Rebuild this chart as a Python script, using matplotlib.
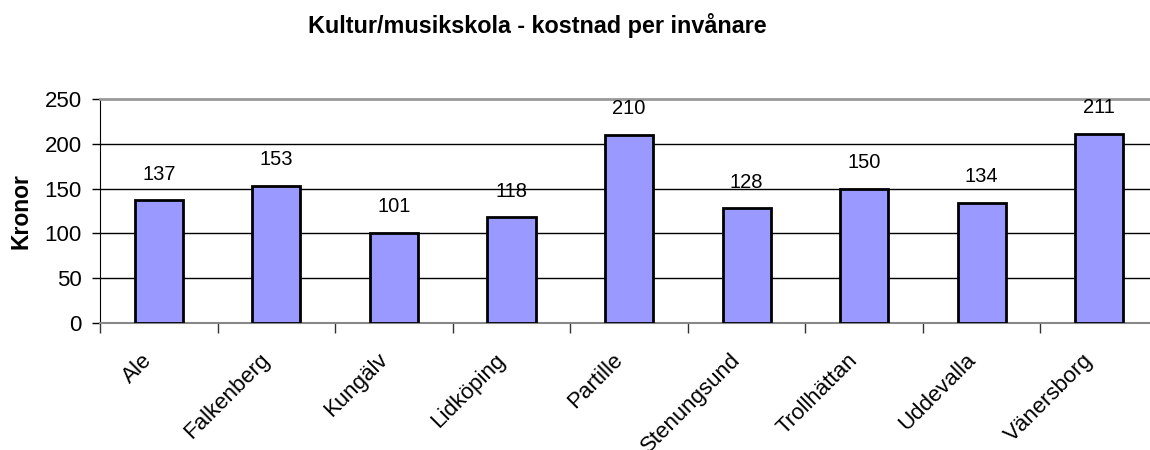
import matplotlib.pyplot as plt
import matplotlib.transforms as mtransforms
import numpy as np

plt.rcParams['font.family'] = ['Liberation Sans', 'DejaVu Sans']

# data
kommuner = ["Ale", "Falkenberg", "Kungälv", "Lidköping", "Partille",
            "Stenungsund", "Trollhättan", "Uddevalla", "Vänersborg"]
kostnad = [137, 153, 101, 118, 210, 128, 150, 134, 211]
y_ticks = [0, 50, 100, 150, 200, 250]

fig = plt.figure(figsize=(11.5, 4.5), dpi=100)
ax = fig.add_axes([0.087, 0.282, 0.92, 0.498])

x = np.arange(len(kommuner))
bars = ax.bar(x, kostnad, width=0.41, color='#9999FF', edgecolor='black',
              linewidth=2, zorder=3)

# value labels above the bars
for bar, v in zip(bars, kostnad):
    ax.annotate(str(v), (bar.get_x() + bar.get_width() / 2, bar.get_height()),
                xytext=(0, 12), textcoords='offset points',
                ha='center', va='bottom', fontsize=14.5)

ax.set_xlim(-0.5, len(kommuner) - 0.5)
ax.set_ylim(0, 250)

# gridlines
for yv in y_ticks[1:-1]:
    ax.axhline(yv, color='black', linewidth=1, zorder=1)

ax.set_yticks(y_ticks)
ax.tick_params(axis='y', labelsize=16, length=6, width=1, pad=7)

ax.set_xticks(x)
ax.set_xticklabels(kommuner, rotation=45, ha='right', rotation_mode='anchor')
ax.tick_params(axis='x', which='major', length=0, labelsize=16, pad=19)
ax.set_xticks(np.arange(-0.5, len(kommuner)), minor=True)
ax.tick_params(axis='x', which='minor', length=7, width=1, color='#333333')

# shift rotated labels left so their ends sit just left of the bar centres
shift = mtransforms.ScaledTranslation(-17 / 100, 0, fig.dpi_scale_trans)
for lbl in ax.get_xticklabels():
    lbl.set_transform(lbl.get_transform() + shift)

ax.spines['right'].set_visible(False)
ax.spines['top'].set_color('#999999')
ax.spines['top'].set_linewidth(2)
ax.spines['bottom'].set_color('#888888')
ax.spines['bottom'].set_linewidth(1.5)
ax.spines['left'].set_color('black')

ax.set_ylabel('Kronor', fontsize=16.5, fontweight='bold', labelpad=9)
fig.text(0.467, 0.943, 'Kultur/musikskola - kostnad per invånare',
         ha='center', va='center', fontsize=16.8, fontweight='bold')

plt.savefig('out.png', dpi=100)
